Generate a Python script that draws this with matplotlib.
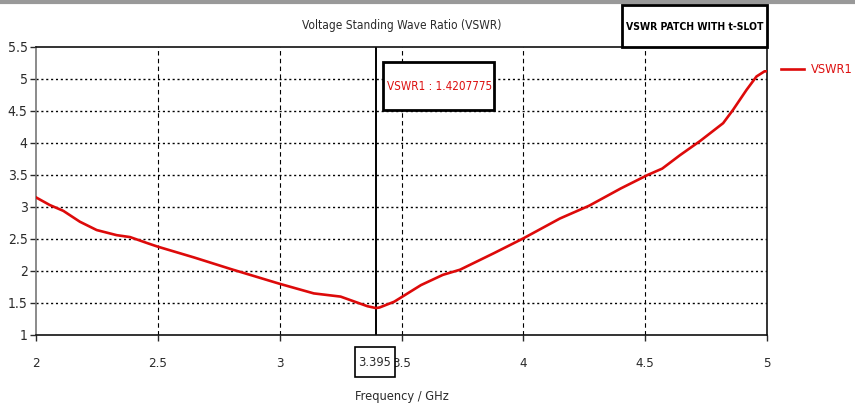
import matplotlib
matplotlib.use("Agg")
import matplotlib.pyplot as plt
from matplotlib.patches import Rectangle
from matplotlib.lines import Line2D

#===== DATA =====#
freq = [2.0, 2.057, 2.112, 2.18, 2.249, 2.331, 2.386, 2.461, 2.5, 2.65, 2.8, 3.0, 3.14,
        3.25, 3.36, 3.395, 3.41, 3.47, 3.58, 3.67, 3.74, 3.88, 4.0, 4.15, 4.27, 4.4,
        4.51, 4.57, 4.643, 4.725, 4.82, 4.861, 4.916, 4.957, 4.99, 5.0]
vswr = [3.15, 3.03, 2.94, 2.77, 2.64, 2.56, 2.53, 2.43, 2.38, 2.21, 2.03, 1.80, 1.65,
        1.60, 1.45, 1.4207775, 1.43, 1.52, 1.78, 1.94, 2.02, 2.28, 2.51, 2.82, 3.02, 3.29,
        3.50, 3.60, 3.81, 4.03, 4.31, 4.52, 4.83, 5.04, 5.12, 5.12]
x_ticks = [2, 2.5, 3, 3.5, 4, 4.5, 5]
x_labels = ["2", "2.5", "3", "3.5", "4", "4.5", "5"]
y_ticks = [1, 1.5, 2, 2.5, 3, 3.5, 4, 4.5, 5, 5.5]
y_labels = ["1", "1.5", "2", "2.5", "3", "3.5", "4", "4.5", "5", "5.5"]
marker_f = 3.395
marker_v = 1.4207775
series_name = "VSWR1"

plt.rcParams['font.family'] = ['DejaVu Sans']
plt.rcParams['font.stretch'] = 'condensed'

RED = "#dd0a0a"
TXT = "#2a2a2a"

W, H = 855, 405
fig = plt.figure(figsize=(W / 100, H / 100), dpi=100)
fig.patch.set_facecolor("white")

def fx(px):
    return px / W

def fy(py):
    return 1 - py / H

# plot area in pixels: left 36, right 767, top 47, bottom 335
ax = fig.add_axes([fx(36), fy(335), fx(767 - 36), (335 - 47) / H])
ax.set_xlim(2, 5)
ax.set_ylim(1, 5.5)

# grid: dotted horizontal, dashed vertical
for v in y_ticks[1:-1]:
    ax.axhline(v, color="black", lw=1.0, ls=(0, (1.5, 2)), zorder=1)
for f in x_ticks[1:-1]:
    ax.axvline(f, color="black", lw=0.8, ls=(0, (4, 3)), zorder=1)

ax.plot(freq, vswr, color=RED, lw=1.9, zorder=3, label=series_name,
        solid_joinstyle="round")

# marker line
ax.axvline(marker_f, color="black", lw=1.4, zorder=2)

ax.set_xticks(x_ticks)
ax.set_xticklabels(x_labels)
ax.set_yticks(y_ticks)
ax.set_yticklabels(y_labels)
ax.tick_params(direction="out", length=4, width=1, colors=TXT)
ax.tick_params(axis="x", pad=12, labelsize=9.5)
ax.tick_params(axis="y", pad=2, labelsize=10)
for s in ax.spines.values():
    s.set_color("#111111")
    s.set_linewidth(1.2)
ax.spines["left"].set_color("#777777")

ax.set_title("Voltage Standing Wave Ratio (VSWR)", fontsize=8.6, color=TXT, pad=13)
ax.set_xlabel("Frequency / GHz", fontsize=9.2, color=TXT, labelpad=14)

# marker frequency readout under the axis
fig.patches.append(Rectangle((fx(355), fy(377)), fx(395 - 355), (377 - 347) / H,
                             transform=fig.transFigure, fc="white", ec="black", lw=1.2, zorder=5))
fig.text(fx(375), fy(362), "%.3f" % marker_f, ha="center", va="center",
         fontsize=9.2, color=TXT, zorder=6)

# marker value readout
fig.patches.append(Rectangle((fx(383), fy(110)), fx(494 - 383), (110 - 62) / H,
                             transform=fig.transFigure, fc="white", ec="black", lw=2, zorder=5))
fig.text(fx(387), fy(86), "%s : %.7f" % (series_name, marker_v), color="#dd1111",
         fontsize=8.4, va="center", ha="left", zorder=6)

# caption box
fig.patches.append(Rectangle((fx(622), fy(47)), fx(767 - 622), (47 - 5) / H,
                             transform=fig.transFigure, fc="white", ec="black", lw=2, zorder=5))
fig.text(fx(694.5), fy(27), "VSWR PATCH WITH t-SLOT", color="black", fontsize=7.5,
         fontweight="bold", ha="center", va="center", zorder=6)

# legend outside the plot
ax.legend(loc="upper left", bbox_to_anchor=(fx(776), fy(58)), bbox_transform=fig.transFigure,
          frameon=False, handlelength=1.8, handletextpad=0.5, fontsize=9.2,
          labelcolor="#dd1111", borderaxespad=0)

# window frame line along the top
fig.add_artist(Line2D([0, 1], [fy(2), fy(2)], transform=fig.transFigure,
                      color="#999999", lw=3))

fig.savefig("out.png", dpi=100)
